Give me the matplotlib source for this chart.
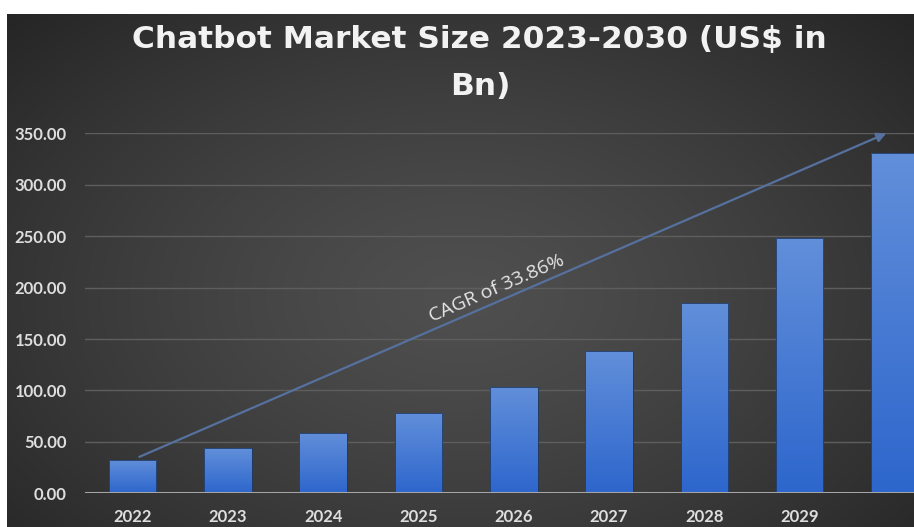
import numpy as np
import matplotlib
matplotlib.use("Agg")
import matplotlib.pyplot as plt
from matplotlib.colors import LinearSegmentedColormap

# chatbot market size, US$ bn
years = ["2022", "2023", "2024", "2025", "2026", "2027", "2028", "2029", "2030"]
market_size = [32.4, 43.7, 58.9, 77.8, 103.7, 138.3, 185.0, 247.9, 330.5]
y_ticks = [0, 50, 100, 150, 200, 250, 300, 350]
title = "Chatbot Market Size 2023-2030 (US$ in\nBn)"
cagr_label = "CAGR of 33.86%"

W, H, DPI = 914, 527, 100
fig = plt.figure(figsize=(W / DPI, H / DPI), dpi=DPI, facecolor="white")

# dark panel with a soft radial glow in the middle
px0 = 7 / W
py1 = (H - 14) / H
bg = fig.add_axes([px0, 0, 1 - px0, py1], zorder=0)
gx, gy = np.meshgrid(np.linspace(0, 1, 400), np.linspace(0, 1, 300))
d = np.sqrt(((gx - 0.5) / 0.75) ** 2 + ((gy - 0.55) / 0.85) ** 2)
shade = np.clip(0.31 - 0.18 * d ** 1.3, 0.13, 0.31)
bg.imshow(np.dstack([shade] * 3), aspect="auto", origin="upper",
          extent=[0, 1, 0, 1], interpolation="bilinear")
bg.set_xlim(0, 1)
bg.set_ylim(0, 1)
bg.axis("off")

ax = fig.add_axes([85 / W, (H - 493.3) / H, 1 - 85 / W, 360 / H], zorder=1)
ax.patch.set_alpha(0)
x = np.arange(len(years))
bars = ax.bar(x, market_size, width=0.5, color="none", edgecolor="#1f3a66",
              linewidth=0.6, zorder=3)

# vertical blue gradient inside each bar
bar_cmap = LinearSegmentedColormap.from_list("barblue", ["#2d66cc", "#628fda"])
grad = np.linspace(0, 1, 256).reshape(-1, 1)
for b in bars:
    bx, by = b.get_x(), b.get_y()
    im = ax.imshow(grad, cmap=bar_cmap, aspect="auto", origin="lower",
                   extent=[bx, bx + b.get_width(), by, by + b.get_height()],
                   zorder=2.5)
    im.set_clip_path(b)

ax.set_xlim(-0.5, 8.2)
ax.set_ylim(0, 350)
ax.set_yticks(y_ticks)
ax.set_yticklabels([f"{v:.2f}" for v in y_ticks])
ax.set_xticks(x[:-1])
ax.set_xticklabels(years[:-1])
ax.grid(axis="y", color="#5e5e5e", linewidth=1.0, zorder=0)
ax.axhline(0, color="#a5a5a5", linewidth=2.2, zorder=4)
for s in ax.spines.values():
    s.set_visible(False)
ax.tick_params(length=0, colors="#dedede", labelsize=12)
ax.tick_params(axis="y", pad=13)
ax.tick_params(axis="x", pad=11)
for lbl in ax.get_xticklabels() + ax.get_yticklabels():
    lbl.set_fontfamily("Lato")
    lbl.set_fontweight("bold")

# growth arrow from the first bar to the top gridline
ax.annotate("", xy=(7.91, 350), xytext=(0.07, market_size[0] + 3),
            arrowprops=dict(arrowstyle="-|>", color="#56719e", lw=1.6,
                            mutation_scale=14, shrinkA=0, shrinkB=0),
            annotation_clip=False, zorder=5)
p0 = ax.transData.transform((0.07, market_size[0] + 3))
p1 = ax.transData.transform((7.91, 350))
ang = np.degrees(np.arctan2(p1[1] - p0[1], p1[0] - p0[0]))
ax.text(3.82, 199, cagr_label, rotation=ang, rotation_mode="anchor",
        ha="center", va="center", color="#e6e6e6", fontsize=14,
        fontfamily="Open Sans", zorder=6)

fig.text(0.525, (H - 25) / H, title, ha="center", va="top",
         multialignment="center", color="#f2f2f2", fontsize=22.5,
         fontweight="bold", fontfamily="DejaVu Sans", linespacing=1.78)

fig.savefig("out.png", dpi=DPI, facecolor="white")
